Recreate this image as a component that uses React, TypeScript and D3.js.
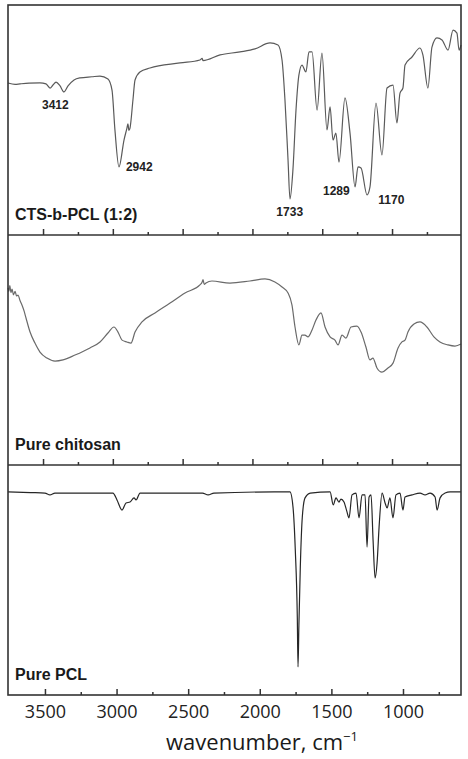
/**
 * FTIR spectra of CTS-b-PCL copolymer vs pure chitosan and pure PCL,
 * three stacked transmittance panels over a shared wavenumber axis.
 */
import { useEffect, useRef } from 'react';
import * as d3 from 'd3';

type Pt = [number, number]; // [wavenumber cm-1, transmittance a.u.]

const copolymer: Pt[] = [
  [3751, 66.1], [3700, 65.5], [3665, 65.7], [3600, 66], [3522, 66.1], [3479, 65.7], [3450, 63.9],
  [3429, 65.2], [3407, 66.5], [3378, 64.8], [3350, 62.2], [3321, 64.8], [3278, 67.4], [3235, 68.3],
  [3150, 68.8], [3092, 69.1], [3035, 67.8], [3006, 63.0], [2985, 45.7], [2956, 29.6], [2920, 41.3],
  [2899, 46.5], [2892, 48.3], [2885, 45.5], [2877, 46.5], [2856, 58.7], [2841, 67.4], [2806, 70.9],
  [2734, 72.6], [2519, 74.8], [2376, 76.1], [2360, 76.8], [2354, 75.8], [2232, 78.3], [2089, 79.6],
  [1982, 80.9], [1874, 83.5], [1817, 82.6], [1788, 76.1], [1767, 58.7], [1745, 32.6], [1731, 15.7],
  [1710, 28.3], [1688, 54.3], [1667, 69.6], [1645, 73.9], [1617, 70.9], [1595, 79.6], [1573, 79.6],
  [1537, 54.3], [1502, 79.1], [1466, 45.7], [1444, 55.7], [1423, 41.3], [1402, 44.3], [1380, 31.7],
  [1337, 59.6], [1301, 44.3], [1265, 20.9], [1244, 29.6], [1222, 29.1], [1179, 17.4], [1158, 20.9],
  [1115, 57.4], [1072, 34.8], [1036, 63.9], [993, 65.2], [965, 48.7], [943, 61.7], [922, 63.9],
  [907, 73.9], [857, 77.4], [800, 81.3], [779, 78.3], [743, 63.9], [714, 81.7], [678, 85.7],
  [642, 84.8], [599, 80.4], [563, 89.1], [535, 87.8], [520, 80.4], [506, 82.6],
];

const chitosan: Pt[] = [
  [3751, 77.0], [3745, 75.5], [3738, 78], [3730, 75], [3722, 76.5], [3712, 74], [3700, 75.5],
  [3690, 73.5], [3679, 73.9], [3665, 71.5], [3651, 69.6], [3636, 67], [3622, 63.9], [3593, 57.8],
  [3558, 53.0], [3522, 49.1], [3472, 46.5], [3414, 45.2], [3357, 45.7], [3271, 47.8], [3164, 50.9],
  [3092, 53.5], [3035, 57.4], [2992, 60.0], [2963, 57.8], [2934, 54.3], [2899, 53.5], [2870, 53.0],
  [2841, 57.8], [2791, 62.2], [2698, 66.1], [2590, 70.4], [2483, 74.8], [2376, 78.3], [2360, 79.6],
  [2354, 80.6], [2345, 78.5], [2333, 79.1], [2290, 80.0], [2161, 79.1], [2018, 80.0], [1910, 80.9],
  [1839, 79.6], [1788, 77.4], [1745, 74.8], [1717, 69.6], [1695, 60.0], [1667, 52.2], [1645, 56.5],
  [1624, 56.5], [1602, 55.7], [1573, 58.7], [1545, 63.0], [1509, 66.1], [1480, 60.0], [1444, 55.7],
  [1409, 54.3], [1387, 52.2], [1358, 56.5], [1330, 55.2], [1294, 60.0], [1251, 60.4], [1222, 57.8],
  [1187, 51.3], [1158, 45.7], [1137, 46.5], [1108, 42.2], [1072, 40.4], [1029, 42.2], [993, 44.3],
  [957, 50.9], [929, 53.5], [907, 54.3], [886, 57.8], [843, 61.3], [800, 62.2], [750, 60.0],
  [700, 55.7], [657, 53.5], [599, 52.2], [549, 51.7], [506, 52.6],
];

const pcl: Pt[] = [
  [3758, 88.3], [3600, 88.0], [3500, 87.8], [3465, 87.0], [3430, 87.8], [3100, 87.8], [3025, 87.8],
  [2997, 84.8], [2962, 80.4], [2934, 83.5], [2906, 83.9], [2878, 85.7], [2864, 84.8], [2836, 87.8],
  [2500, 87.8], [2400, 87.8], [2361, 87.0], [2320, 87.8], [1900, 88.3], [1789, 88.3], [1768, 81.7],
  [1752, 63.0], [1738, 33.9], [1733, 12.2], [1727, 30], [1717, 55.7], [1703, 77.4], [1684, 85.7],
  [1647, 87.8], [1509, 88.3], [1487, 82.6], [1468, 85.7], [1447, 83.9], [1433, 85.2], [1412, 83.9],
  [1391, 79.6], [1377, 77.0], [1356, 87.0], [1328, 87.8], [1307, 77.0], [1286, 87.0], [1265, 87.0],
  [1251, 64.3], [1237, 86.1], [1223, 87.0], [1209, 67.4], [1195, 50.9], [1181, 57.4], [1167, 73.0],
  [1146, 87.8], [1125, 83.5], [1111, 81.3], [1091, 85.7], [1070, 77.0], [1049, 87.0], [1021, 87.8],
  [1000, 80.4], [986, 86.1], [937, 87.0], [881, 87.8], [846, 87.0], [811, 87.8], [776, 86.1],
  [762, 80.4], [741, 85.7], [706, 87.8], [671, 88.3], [595, 88.3],
];

const panelNames = ['CTS-b-PCL (1:2)', 'Pure chitosan', 'Pure PCL'];
const panelColors = ['#5a5a5a', '#6a6a6a', '#262626'];

// peak annotations on the copolymer trace: label, wavenumber, label baseline level, anchor
const peakLabels = ['3412', '2942', '1733', '1289', '1170'];
const peakWn = [3412, 2942, 1733, 1289, 1170];
const peakLevel = [54.8, 27.8, 8.3, 17.4, 13.5];
const peakAnchor = ['middle', 'start', 'middle', 'end', 'start'];
const peakShift = [0, 5, 0, -2, 10];

const majorTicks = [3500, 3000, 2500, 2000, 1500, 1000];
const minorTicks = [3250, 2750, 2250, 1750, 1250, 750];

export default function App() {
  const svgRef = useRef<SVGSVGElement>(null);

  useEffect(() => {
    if (!svgRef.current) return;
    const svg = d3.select(svgRef.current);
    svg.selectAll('*').remove();

    const left = 8, right = 461, top = 5, panelH = 230;
    const frame = '#333';

    // the two upper spectra were plotted on a slightly wider range than PCL
    const xUpper = d3.scaleLinear().domain([3751, 506]).range([left, right]);
    const xLower = d3.scaleLinear().domain([3758, 595]).range([left, right]);
    const series = [copolymer, chitosan, pcl];
    const xs = [xUpper, xUpper, xLower];

    series.forEach((data, i) => {
      const y0 = top + i * panelH;
      const x = xs[i];
      const y = d3.scaleLinear().domain([0, 100]).range([y0 + panelH, y0]);
      const g = svg.append('g');

      const line = d3.line<Pt>().x((d) => x(d[0])).y((d) => y(d[1])).curve(d3.curveMonotoneX);
      g.append('path')
        .datum(data)
        .attr('d', line)
        .attr('fill', 'none')
        .attr('stroke', panelColors[i])
        .attr('stroke-width', 1.2)
        .attr('stroke-linejoin', 'round');

      // inward ticks on the bottom edge of each panel
      const axisG = g.append('g').attr('transform', `translate(0,${y0 + panelH})`);
      axisG.call(d3.axisBottom(x).tickValues(majorTicks).tickSize(-6).tickPadding(10)
        .tickFormat(i === 2 ? d3.format('d') : () => ''));
      axisG.select('.domain').remove();
      axisG.selectAll('line').attr('stroke', frame).attr('stroke-width', 1.5);
      axisG.selectAll('text')
        .attr('fill', '#222')
        .attr('font-size', 18)
        .attr('font-family', 'Open Sans, Liberation Sans, sans-serif');

      const minorG = g.append('g').attr('transform', `translate(0,${y0 + panelH})`);
      minorG.call(d3.axisBottom(x).tickValues(minorTicks).tickSize(-3).tickFormat(() => ''));
      minorG.select('.domain').remove();
      minorG.selectAll('line').attr('stroke', frame).attr('stroke-width', 1.5);

      g.append('text')
        .attr('x', 15)
        .attr('y', y0 + panelH - 15)
        .attr('font-family', 'Liberation Sans, Arial, sans-serif')
        .attr('font-weight', 'bold')
        .attr('font-size', 16)
        .attr('fill', '#1a1a1a')
        .text(panelNames[i]);

      if (i === 0) {
        peakLabels.forEach((lab, k) => {
          g.append('text')
            .attr('x', x(peakWn[k]) + peakShift[k])
            .attr('y', y(peakLevel[k]))
            .attr('text-anchor', peakAnchor[k])
            .attr('font-family', 'Liberation Sans, Arial, sans-serif')
            .attr('font-weight', 'bold')
            .attr('font-size', 12)
            .attr('fill', '#222')
            .text(lab);
        });
      }
    });

    // frame and panel separators
    svg.append('rect')
      .attr('x', left).attr('y', top)
      .attr('width', right - left).attr('height', panelH * 3)
      .attr('fill', 'none').attr('stroke', frame).attr('stroke-width', 1.6);
    [1, 2].forEach((k) => {
      svg.append('line')
        .attr('x1', left).attr('x2', right)
        .attr('y1', top + k * panelH).attr('y2', top + k * panelH)
        .attr('stroke', frame).attr('stroke-width', 1.6);
    });

    const title = svg.append('text')
      .attr('x', 262)
      .attr('y', 750)
      .attr('text-anchor', 'middle')
      .attr('font-family', 'Open Sans, sans-serif')
      .attr('font-size', 22)
      .attr('fill', '#1a1a1a');
    title.append('tspan').text('wavenumber, cm');
    title.append('tspan').attr('dy', -9).attr('font-size', 13).text('\u22121');
  }, []);

  return (
    <svg
      ref={svgRef}
      width={468}
      height={759}
      style={{ position: 'absolute', left: 0, top: 0, background: '#fff' }}
    />
  );
}
